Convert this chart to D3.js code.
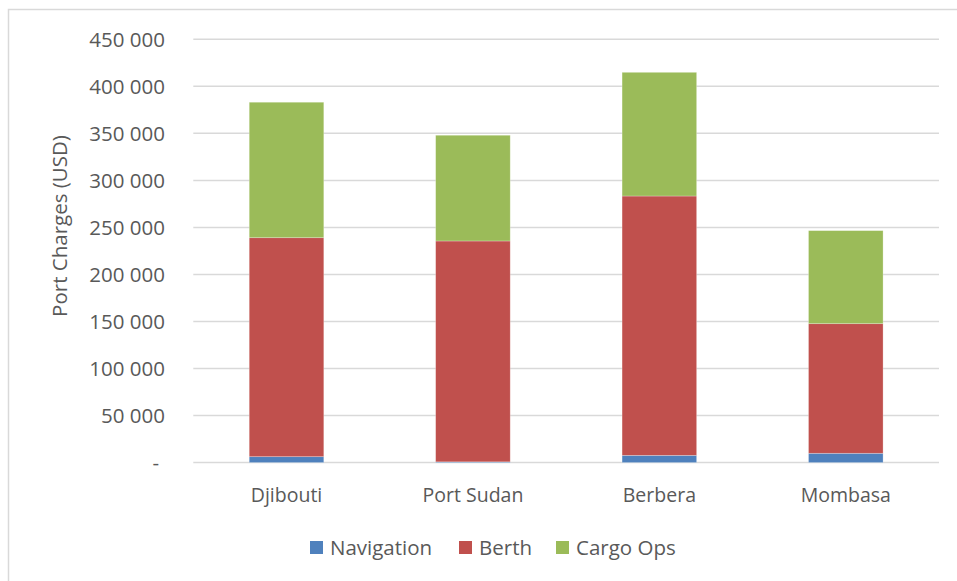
<!DOCTYPE html>
<html>
<head>
<meta charset="utf-8">
<script src="https://cdn.jsdelivr.net/npm/d3@7"></script>
<style>
  html, body { margin: 0; padding: 0; background: #fff; }
  svg { display: block; }
  text { font-family: "Open Sans", "Noto Sans", sans-serif; fill: #595959; }
</style>
</head>
<body>
<svg id="chart" width="957" height="581"></svg>
<script>
const categories = ["Djibouti", "Port Sudan", "Berbera", "Mombasa"];
const seriesNames = ["Navigation", "Berth", "Cargo Ops"];
const navigation = [6300, 800, 7700, 9900];
const berth = [232800, 234800, 275700, 137800];
const cargoOps = [144000, 112400, 131500, 98900];
const yTicks = [0, 50000, 100000, 150000, 200000, 250000, 300000, 350000, 400000, 450000];
const colors = ["#4F81BD", "#C0504D", "#9BBB59"];
const yTitle = "Port Charges (USD)";

const rows = categories.map((c, i) => ({
  category: c,
  "Navigation": navigation[i],
  "Berth": berth[i],
  "Cargo Ops": cargoOps[i]
}));

const svg = d3.select("#chart");
const plot = { left: 193.3, right: 939, top: 39.3, bottom: 462.6 };

// chart frame
svg.append("rect")
  .attr("x", 8.5).attr("y", 9.5)
  .attr("width", 1000).attr("height", 1000)
  .attr("fill", "none").attr("stroke", "#d9d9d9").attr("stroke-width", 1.5);

const x = d3.scaleBand().domain(categories)
  .range([plot.left, plot.right])
  .paddingInner(0.6).paddingOuter(0.3);
const y = d3.scaleLinear().domain([0, 450000]).range([plot.bottom, plot.top]);

const locale = d3.formatLocale({ decimal: ".", thousands: " ", grouping: [3], currency: ["", ""] });
const fmt = locale.format(",d");

// gridlines
svg.append("g").selectAll("line").data(yTicks).join("line")
  .attr("x1", plot.left).attr("x2", plot.right)
  .attr("y1", d => y(d)).attr("y2", d => y(d))
  .attr("stroke", "#d9d9d9").attr("stroke-width", 1.5);

// y axis labels
const yAxis = d3.axisLeft(y).tickValues(yTicks)
  .tickFormat(d => d === 0 ? "-" : fmt(d)).tickSize(0).tickPadding(0);
const yg = svg.append("g").attr("transform", "translate(165,0)").call(yAxis);
yg.select(".domain").remove();
yg.selectAll("text").attr("font-size", 20.5).attr("fill", "#595959")
  .attr("font-family", "'Open Sans', sans-serif").attr("dy", "0.34em")
  .attr("dx", d => d === 0 ? -6 : 0);

// x axis labels
const xAxis = d3.axisBottom(x).tickSize(0).tickPadding(0);
const xg = svg.append("g").attr("transform", "translate(0,502)").call(xAxis);
xg.select(".domain").remove();
xg.selectAll("text").attr("font-size", 19.5).attr("fill", "#595959")
  .attr("font-family", "'Open Sans', sans-serif").attr("dy", 0);

// stacked bars
const stack = d3.stack().keys(seriesNames);
const stacked = stack(rows);
svg.append("g").selectAll("g").data(stacked).join("g")
  .attr("fill", (d, i) => colors[i])
  .selectAll("rect").data(d => d).join("rect")
  .attr("x", d => x(d.data.category))
  .attr("width", x.bandwidth())
  .attr("y", d => y(d[1]))
  .attr("height", d => Math.max(0, y(d[0]) - y(d[1])))
  .attr("stroke", "#ffffff").attr("stroke-opacity", 0.35).attr("stroke-width", 0.75);

// y title
svg.append("text")
  .attr("transform", "translate(67,226) rotate(-90)")
  .attr("text-anchor", "middle")
  .attr("font-size", 20.5)
  .text(yTitle);

// legend
const legendX = [310, 459, 556];
const lg = svg.append("g").selectAll("g").data(seriesNames).join("g")
  .attr("transform", (d, i) => `translate(${legendX[i]},0)`);
lg.append("rect").attr("x", 0).attr("y", 541).attr("width", 13).attr("height", 13)
  .attr("fill", (d, i) => colors[i]);
lg.append("text").attr("x", 20).attr("y", 554.5).attr("font-size", 20.5).text(d => d);
</script>
</body>
</html>
